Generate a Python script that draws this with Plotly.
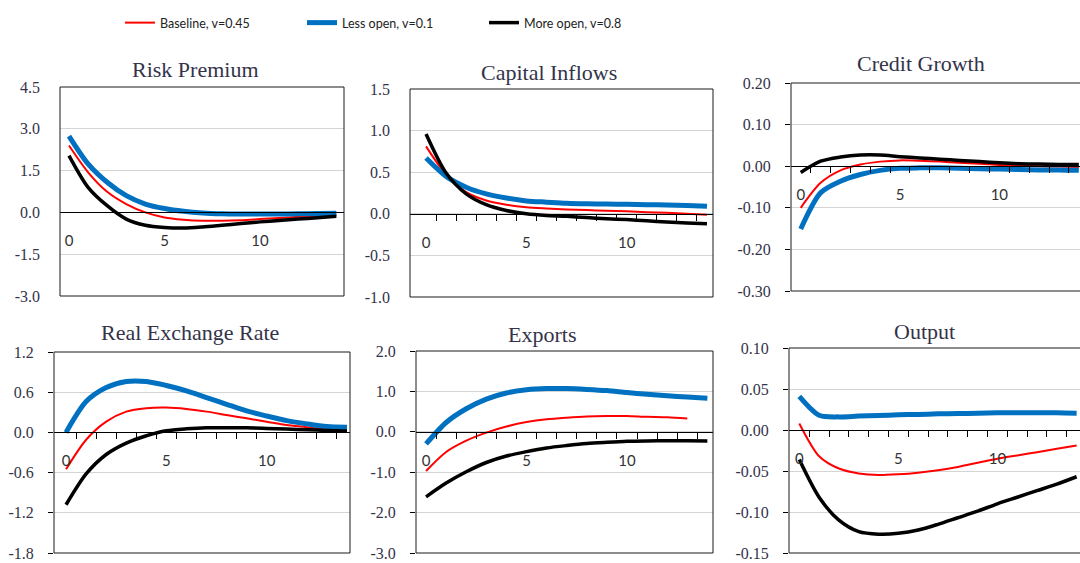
import plotly.graph_objects as go

# ---------------- data ----------------
periods = list(range(15))
series_names = ["Baseline, v=0.45", "Less open, v=0.1", "More open, v=0.8"]
panel_titles = ["Risk Premium", "Capital Inflows", "Credit Growth",
                "Real Exchange Rate", "Exports", "Output"]
x_tick_values = [0, 5, 10]
x_tick_labels = ["0", "5", "10"]

rp_base = [2.40, 1.44, 0.74, 0.30, 0.00, -0.18, -0.26, -0.30, -0.30, -0.28, -0.24, -0.20, -0.16, -0.12, -0.10]
rp_less = [2.74, 1.74, 1.08, 0.60, 0.30, 0.14, 0.04, -0.02, -0.05, -0.06, -0.06, -0.06, -0.05, -0.04, -0.03]
rp_more = [2.04, 0.90, 0.24, -0.24, -0.46, -0.54, -0.56, -0.52, -0.46, -0.40, -0.34, -0.29, -0.24, -0.19, -0.14]

ci_base = [0.81, 0.47, 0.26, 0.16, 0.11, 0.08, 0.065, 0.053, 0.045, 0.037, 0.03, 0.02, 0.012, 0.0, -0.01]
ci_less = [0.67, 0.45, 0.32, 0.24, 0.19, 0.155, 0.14, 0.126, 0.12, 0.118, 0.114, 0.11, 0.106, 0.10, 0.09]
ci_more = [0.96, 0.49, 0.24, 0.11, 0.04, 0.0, -0.02, -0.03, -0.045, -0.06, -0.07, -0.085, -0.10, -0.11, -0.12]

cg_base = [-0.100, -0.040, -0.010, 0.004, 0.011, 0.014, 0.013, 0.011, 0.008, 0.006, 0.003, 0.001, 0.000, -0.001, -0.002]
cg_less = [-0.151, -0.064, -0.036, -0.020, -0.010, -0.005, -0.004, -0.004, -0.005, -0.006, -0.007, -0.008, -0.009, -0.009, -0.010]
cg_more = [-0.015, 0.012, 0.022, 0.027, 0.027, 0.023, 0.020, 0.017, 0.014, 0.011, 0.008, 0.006, 0.005, 0.004, 0.004]

rer_base = [-0.55, -0.11, 0.16, 0.31, 0.36, 0.37, 0.35, 0.31, 0.26, 0.21, 0.16, 0.11, 0.078, 0.04, 0.015]
rer_less = [0.0, 0.46, 0.67, 0.76, 0.76, 0.70, 0.62, 0.52, 0.42, 0.32, 0.245, 0.176, 0.127, 0.088, 0.078]
rer_more = [-1.08, -0.62, -0.33, -0.16, -0.05, 0.025, 0.054, 0.07, 0.07, 0.069, 0.06, 0.05, 0.04, 0.03, 0.02]

ex_base = [-0.97, -0.50, -0.22, -0.02, 0.13, 0.24, 0.31, 0.35, 0.38, 0.39, 0.39, 0.37, 0.36, 0.33, None]
ex_less = [-0.30, 0.23, 0.57, 0.81, 0.96, 1.04, 1.07, 1.07, 1.05, 1.02, 0.97, 0.93, 0.89, 0.86, 0.83]
ex_more = [-1.61, -1.27, -0.99, -0.76, -0.60, -0.49, -0.40, -0.34, -0.29, -0.26, -0.235, -0.225, -0.22, -0.22, -0.225]

out_base = [0.008, -0.032, -0.047, -0.053, -0.055, -0.054, -0.052, -0.049, -0.045, -0.040, -0.035, -0.031, -0.027, -0.023, -0.019]
out_less = [0.041, 0.018, 0.016, 0.017, 0.0177, 0.0185, 0.019, 0.0197, 0.020, 0.0205, 0.021, 0.021, 0.021, 0.021, 0.0205]
out_more = [-0.036, -0.082, -0.110, -0.124, -0.127, -0.126, -0.122, -0.115, -0.107, -0.099, -0.090, -0.082, -0.074, -0.066, -0.057]

rp_yticks = [-3.0, -1.5, 0.0, 1.5, 3.0, 4.5]
ci_yticks = [-1.0, -0.5, 0.0, 0.5, 1.0, 1.5]
cg_yticks = [-0.30, -0.20, -0.10, 0.0, 0.10, 0.20]
rer_yticks = [-1.8, -1.2, -0.6, 0.0, 0.6, 1.2]
ex_yticks = [-3.0, -2.0, -1.0, 0.0, 1.0, 2.0]
out_yticks = [-0.15, -0.10, -0.05, 0.0, 0.05, 0.10]

panel_series = [
    (rp_base, rp_less, rp_more),
    (ci_base, ci_less, ci_more),
    (cg_base, cg_less, cg_more),
    (rer_base, rer_less, rer_more),
    (ex_base, ex_less, ex_more),
    (out_base, out_less, out_more),
]
panel_yticks = [rp_yticks, ci_yticks, cg_yticks, rer_yticks, ex_yticks, out_yticks]
panel_ydec = [1, 1, 2, 1, 1, 2]

# ---------------- styling / layout ----------------
W, H = 1080, 563
series_colors = ["#ff0000", "#0070c0", "#000000"]
series_widths = [2, 5, 3.5]

# plot boxes in pixels: (left, top, right, bottom)
boxes = [(60, 87, 344, 296), (410, 89, 713, 297), (791, 83, 1080, 291),
         (54, 352, 350, 553), (416, 351, 713, 553), (789, 348, 1080, 553)]
xranges = [(-0.47, 14.4), (-0.8, 14.3), (-0.49, 14.06),
           (-0.6, 14.15), (-0.5, 14.28), (-0.52, 14.17)]
title_pos = [(195, 69), (549, 73), (921, 64), (190, 332), (542, 334), (924, 331)]
show_minor = [False, True, True, True, True, True]
show_yticks = [False, False, True, True, True, True]
open_right = [False, False, True, False, False, True]

serif = "Liberation Serif"
sans = "Lato"
text_color = "#33334a"

fig = go.Figure()
layout = dict(
    width=W, height=H,
    margin=dict(l=0, r=0, t=0, b=0, pad=0, autoexpand=False),
    paper_bgcolor="white", plot_bgcolor="white",
    showlegend=True,
    legend=dict(orientation="h", x=120 / W, y=1 - 8 / H, xanchor="left", yanchor="top",
                entrywidth=137, entrywidthmode="pixels",
                font=dict(family="Liberation Sans Narrow, Arial Narrow, Lato, Open Sans, sans-serif",
                          size=12.5, color="#222"),
                bgcolor="rgba(0,0,0,0)", traceorder="normal"),
    shapes=[], annotations=[],
)

for i in range(6):
    n = "" if i == 0 else str(i + 1)
    xa, ya = "x" + n, "y" + n
    l, t, r, b = boxes[i]
    ymin, ymax = panel_yticks[i][0], panel_yticks[i][-1]
    ydom = [(H - b) / H, (H - t) / H]
    zero_pos = ydom[0] + (0 - ymin) / (ymax - ymin) * (ydom[1] - ydom[0])

    for s in range(3):
        fig.add_trace(go.Scatter(
            x=periods, y=panel_series[i][s], mode="lines",
            name=series_names[s], legendgroup=series_names[s], showlegend=(i == 0),
            line=dict(color=series_colors[s], width=series_widths[s], shape="spline", smoothing=0.8),
            xaxis=xa, yaxis=ya, hoverinfo="skip",
        ))

    minor = dict(ticks="outside", ticklen=6, tickcolor="#000", tickwidth=1,
                 tickvals=[p + 0.5 for p in periods[:-1]], showgrid=False) if show_minor[i] else dict(ticks="")
    layout["xaxis" + n] = dict(
        domain=[l / W, min(r / W, 1.0)], range=list(xranges[i]),
        anchor="free", position=zero_pos,
        showline=True, linecolor="#000", linewidth=1,
        showgrid=False, zeroline=False,
        tickmode="array", tickvals=x_tick_values, ticktext=x_tick_labels,
        ticks="", ticklabelstandoff=15, ticklabeloverflow="allow",
        tickfont=dict(family=sans, size=15, color="#333"),
        minor=minor, fixedrange=True,
    )
    layout["yaxis" + n] = dict(
        domain=ydom, range=[ymin, ymax], anchor=xa,
        showline=False, zeroline=False,
        showgrid=True, gridcolor="#d4d4d4", gridwidth=1,
        tickmode="array", tickvals=panel_yticks[i],
        ticktext=[f"{v:.{panel_ydec[i]}f}" for v in panel_yticks[i]],
        ticks="outside" if show_yticks[i] else "", ticklen=5, tickcolor="#000",
        ticklabelstandoff=11 if show_yticks[i] else 19,
        ticklabeloverflow="allow",
        tickfont=dict(family=serif, size=16, color=text_color),
        fixedrange=True,
    )
    ref = "" if i == 0 else str(i + 1)
    layout["shapes"].append(dict(
        type="rect", xref=f"x{ref} domain", yref=f"y{ref} domain",
        x0=0, x1=(1.1 if open_right[i] else 1), y0=0, y1=1,
        line=dict(color="#1a1a1a", width=1), fillcolor="rgba(0,0,0,0)", layer="above",
    ))
    tx, ty = title_pos[i]
    layout["annotations"].append(dict(
        text=panel_titles[i], xref="paper", yref="paper", x=tx / W, y=1 - ty / H,
        xanchor="center", yanchor="middle", showarrow=False,
        font=dict(family=serif, size=22, color=text_color),
    ))

fig.update_layout(**layout)
fig.write_html(
    "out.html",
    config={"displayModeBar": False},
    post_script="document.body.style.margin='0';document.body.style.padding='0';",
)
